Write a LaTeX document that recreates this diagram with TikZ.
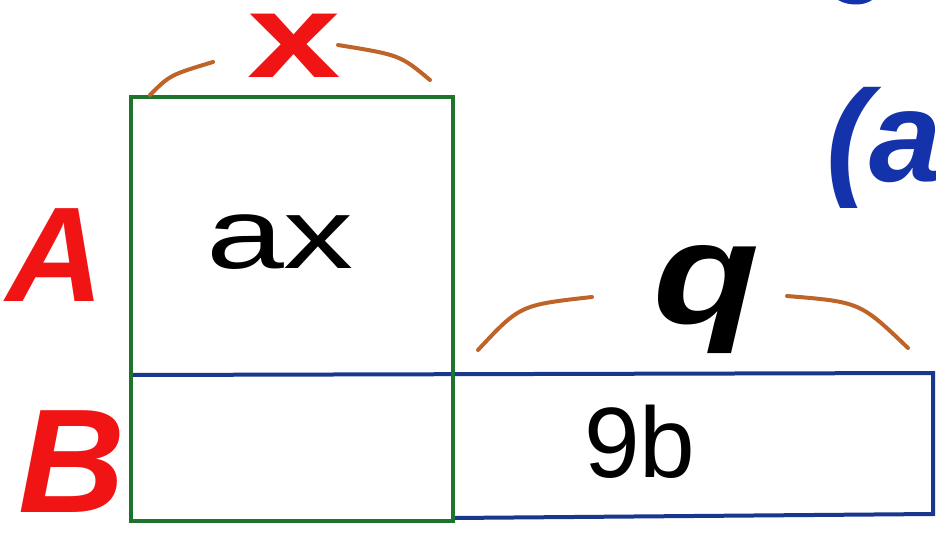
\documentclass[tikz,border=0pt]{standalone}
\usepackage{fontspec}
\setmainfont{Liberation Sans}
\begin{document}
\begin{tikzpicture}[x=1pt,y=-1pt,
  greenline/.style={draw={rgb,255:red,30;green,115;blue,45},line width=4pt},
  blueline/.style={draw={rgb,255:red,25;green,55;blue,140},line width=4pt},
  brace/.style={draw={rgb,255:red,190;green,100;blue,40},line width=4pt,line cap=round},
  redlbl/.style={text={rgb,255:red,240;green,20;blue,20},font=\fontsize{135}{135}\selectfont\bfseries\itshape,inner sep=0pt},
  blacklbl/.style={text=black,inner sep=0pt}]
\useasboundingbox (0,0) rectangle (936,535);
% blue strip
\draw[blueline] (131,375) -- (933,373) -- (933,514) -- (453,518);
% green rectangle
\draw[greenline] (131,97) rectangle (453,521);
% brace arcs
\draw[brace] (150,95) .. controls (170,75) .. (213,62);
\draw[brace] (338,45) .. controls (400,55) .. (430,80);
\draw[brace] (478,350) .. controls (520,305) .. (592,297);
\draw[brace] (787,296) .. controls (860,302) .. (908,348);
% blue fragment at top edge
\fill[fill={rgb,255:red,20;green,50;blue,170}] (838,0) .. controls (848,6) and (864,6) .. (872,0) -- cycle;
% labels
\node[redlbl] (A) at (55,255) {A};
\node[redlbl,font=\fontsize{148}{148}\selectfont\bfseries\itshape] (B) at (72,462) {B};
\node[redlbl,font=\fontsize{120}{120}\selectfont\bfseries,xscale=1.4] (X) at (294,46) {x};
\node[blacklbl,font=\fontsize{100}{100}\selectfont,xscale=1.4] (ax) at (280,242) {ax};
\node[blacklbl,font=\fontsize{100}{100}\selectfont] (nb) at (640,442) {9b};
\node[blacklbl,font=\fontsize{145}{145}\selectfont\bfseries\itshape,xscale=1.2] (q) at (707,300) {q};
\node[inner sep=0pt,text={rgb,255:red,20;green,50;blue,170},font=\fontsize{130}{130}\selectfont\bfseries\itshape,anchor=west] (pa) at (826,148) {(a};
\end{tikzpicture}
\end{document}
